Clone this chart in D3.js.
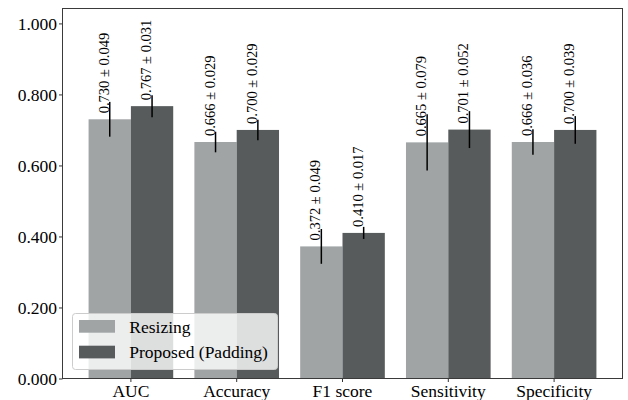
<!DOCTYPE html>
<html>
<head>
<meta charset="utf-8">
<script src="https://cdn.jsdelivr.net/npm/d3@7"></script>
<style>
  body { margin: 0; background: #fff; }
  svg { display: block; }
  text { font-family: "Liberation Serif", "Times New Roman", serif; }
</style>
</head>
<body>
<svg id="chart" width="628" height="400"></svg>
<script>
// data
var categories = ["AUC", "Accuracy", "F1 score", "Sensitivity", "Specificity"];
var seriesNames = ["Resizing", "Proposed (Padding)"];
var resizingMean = [0.730, 0.666, 0.372, 0.665, 0.666];
var resizingStd = [0.049, 0.029, 0.049, 0.079, 0.036];
var paddingMean = [0.767, 0.700, 0.410, 0.701, 0.700];
var paddingStd = [0.031, 0.029, 0.017, 0.052, 0.039];
var yTicks = [0, 0.2, 0.4, 0.6, 0.8, 1.0];

var colors = ["#a0a4a5", "#575b5c"];

// plot box (window.top is reserved, so use other names)
var plotL = 62.5, plotR = 622.5, plotT = 8.5, plotB = 378.5;

var svg = d3.select("#chart");

var x = d3.scaleBand()
    .domain(categories)
    .range([plotL, plotR])
    .paddingInner(0.2)
    .paddingOuter(0.2465);

var xSub = d3.scaleBand()
    .domain(seriesNames)
    .range([0, x.bandwidth()]);

var y = d3.scaleLinear()
    .domain([0, 1.042])
    .range([plotB, plotT]);

// build rows for drawing
var rows = [];
categories.forEach(function (c, i) {
    rows.push({cat: c, s: seriesNames[0], m: resizingMean[i], e: resizingStd[i], k: 0});
    rows.push({cat: c, s: seriesNames[1], m: paddingMean[i], e: paddingStd[i], k: 1});
});

function barMid(d) { return x(d.cat) + xSub(d.s) + xSub.bandwidth() / 2; }

// bars
svg.append("g").selectAll("rect")
    .data(rows).enter()
    .append("rect")
    .attr("x", function (d) { return x(d.cat) + xSub(d.s); })
    .attr("y", function (d) { return y(d.m); })
    .attr("width", xSub.bandwidth())
    .attr("height", function (d) { return y(0) - y(d.m); })
    .attr("fill", function (d) { return colors[d.k]; });

// value labels (rotated)
svg.append("g").selectAll("text")
    .data(rows).enter()
    .append("text")
    .attr("transform", function (d) {
        return "translate(" + (barMid(d) - 1) + "," + (y(d.m) - 6) + ") rotate(-90)";
    })
    .attr("font-size", "14.5px")
    .attr("fill", "#000")
    .text(function (d) { return d.m.toFixed(3) + " \u00b1 " + d.e.toFixed(3); });

// error bars
svg.append("g").selectAll("line")
    .data(rows).enter()
    .append("line")
    .attr("x1", barMid)
    .attr("x2", barMid)
    .attr("y1", function (d) { return y(d.m - d.e); })
    .attr("y2", function (d) { return y(d.m + d.e); })
    .attr("stroke", "#000")
    .attr("stroke-width", 1.5);

// axes
var yAxis = svg.append("g")
    .attr("transform", "translate(" + plotL + ",0)")
    .call(d3.axisLeft(y).tickValues(yTicks).tickFormat(d3.format(".3f")).tickSize(3.5).tickPadding(2));
yAxis.select(".domain").remove();
yAxis.selectAll("text").attr("font-size", "17.5px").attr("fill", "#000")
    .attr("font-family", "Liberation Serif");
yAxis.selectAll("line").attr("stroke", "#333");

var xAxis = svg.append("g")
    .attr("transform", "translate(0," + plotB + ")")
    .call(d3.axisBottom(x).tickSize(3.5).tickPadding(3));
xAxis.select(".domain").remove();
xAxis.selectAll("text").attr("font-size", "17.5px").attr("fill", "#000")
    .attr("font-family", "Liberation Serif");
xAxis.selectAll("line").attr("stroke", "#333");

// frame
svg.append("rect")
    .attr("x", plotL).attr("y", plotT)
    .attr("width", plotR - plotL).attr("height", plotB - plotT)
    .attr("fill", "none")
    .attr("stroke", "#3a3a3a")
    .attr("stroke-width", 1);

// legend
var lg = svg.append("g");
lg.append("rect")
    .attr("x", 72.5).attr("y", 313.5)
    .attr("width", 205).attr("height", 56)
    .attr("rx", 3)
    .attr("fill", "#fff").attr("fill-opacity", 0.8)
    .attr("stroke", "#cccccc").attr("stroke-width", 1);
seriesNames.forEach(function (s, i) {
    lg.append("rect")
        .attr("x", 79).attr("y", 320 + i * 25.7)
        .attr("width", 36).attr("height", 12.7)
        .attr("fill", colors[i]);
    lg.append("text")
        .attr("x", 129.3).attr("y", 333 + i * 25.3)
        .attr("font-size", "17.5px")
        .attr("fill", "#000")
        .text(s);
});
</script>
</body>
</html>
